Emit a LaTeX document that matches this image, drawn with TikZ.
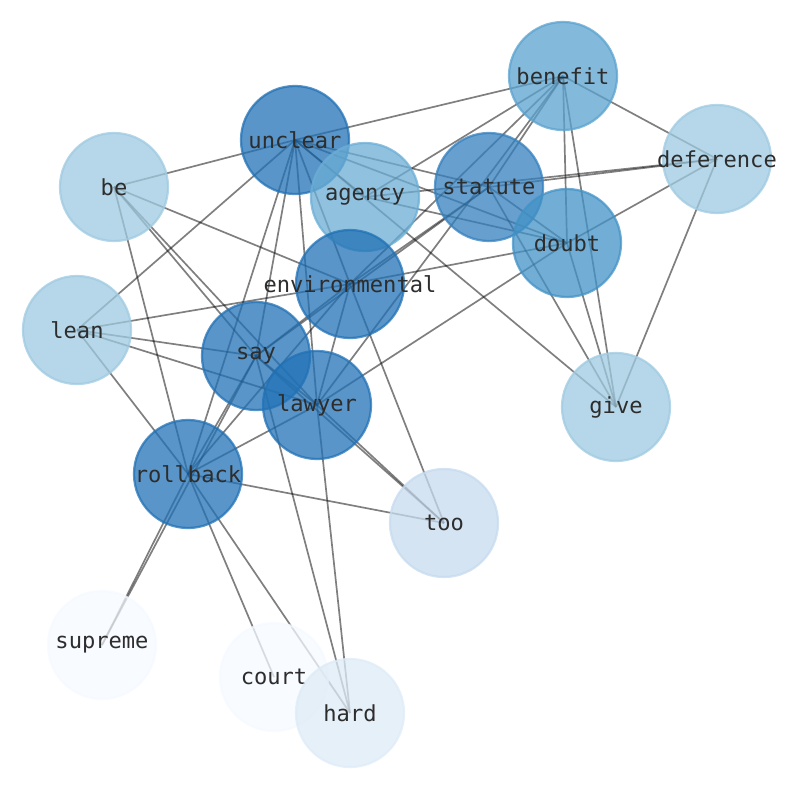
\documentclass[tikz,border=0pt]{standalone}
\usepackage{fontspec}
\setmonofont{DejaVu Sans Mono}
\usetikzlibrary{backgrounds}
\definecolor{blues9}{RGB}{33,113,181}
\definecolor{blues8}{RGB}{52,128,190}
\definecolor{blues7}{RGB}{66,146,198}
\definecolor{blues6}{RGB}{90,162,207}
\definecolor{blues5}{RGB}{107,174,214}
\definecolor{blues4}{RGB}{158,202,225}
\definecolor{blues3}{RGB}{198,219,239}
\definecolor{blues2}{RGB}{222,235,247}
\definecolor{blues1}{RGB}{245,250,255}
\definecolor{wordtext}{RGB}{45,45,45}
\newcommand{\wordtag}[1]{\makebox[0pt]{#1}}

\begin{document}
\begin{tikzpicture}[x=0.025cm,y=-0.025cm]
        \tikzset{word/.style={circle,minimum size=2.7cm,inner sep=0pt,
            line width=1.6pt,fill opacity=0.75,draw opacity=0.75,
            text opacity=1,text=wordtext,
            font=\ttfamily\fontsize{15.7}{16}\selectfont},
          tone/.style={word,fill=#1,draw=#1},
          link/.style={draw=black,draw opacity=0.5,line width=1.2pt}}
        \useasboundingbox (0,0) rectangle (794,790);
        % words
        \node[tone=blues6] (benefit) at (563,76) {\wordtag{benefit}};
        \node[tone=blues9] (unclear) at (295,140) {\wordtag{unclear}};
        \node[tone=blues4] (deference) at (717,159) {\wordtag{deference}};
        \node[tone=blues4] (be) at (114,187) {\wordtag{be}};
        \node[tone=blues5] (agency) at (365,197) {\wordtag{agency}};
        \node[tone=blues8] (statute) at (489,187) {\wordtag{statute}};
        \node[tone=blues7] (doubt) at (567,243) {\wordtag{doubt}};
        \node[tone=blues9] (environmental) at (350,284) {\wordtag{environmental}};
        \node[tone=blues4] (lean) at (77,330) {\wordtag{lean}};
        \node[tone=blues9] (say) at (256,356) {\wordtag{say}};
        \node[tone=blues9] (lawyer) at (317,405) {\wordtag{lawyer}};
        \node[tone=blues4] (give) at (616,407) {\wordtag{give}};
        \node[tone=blues9] (rollback) at (188,474) {\wordtag{rollback}};
        \node[tone=blues3] (too) at (444,523) {\wordtag{too}};
        \node[tone=blues1] (supreme) at (102,645) {\wordtag{supreme}};
        \node[tone=blues1] (court) at (274,677) {\wordtag{court}};
        \node[tone=blues2] (hard) at (350,713) {\wordtag{hard}};
        % co-occurrence links
        \begin{scope}[on background layer]
          \foreach \a/\b in {unclear/benefit,unclear/be,unclear/lean,
              unclear/rollback,unclear/say,unclear/lawyer,
              unclear/environmental,unclear/agency,unclear/statute,
              unclear/doubt,unclear/give,
              be/environmental,be/say,be/lawyer,be/rollback,
              lean/environmental,lean/say,lean/lawyer,lean/rollback,
              benefit/agency,benefit/environmental,benefit/statute,
              benefit/lawyer,benefit/doubt,benefit/give,benefit/deference,
              deference/statute,deference/agency,deference/doubt,
              deference/give,
              statute/doubt,statute/give,statute/environmental,statute/say,
              agency/doubt,doubt/environmental,doubt/lawyer,doubt/give,
              environmental/say,environmental/rollback,
              environmental/lawyer,environmental/too,
              say/lawyer,say/rollback,say/supreme,say/hard,say/too,
              lawyer/rollback,lawyer/too,lawyer/hard,
              rollback/supreme,rollback/court,rollback/hard,rollback/too}
            \draw[link] (\a.center) -- (\b.center);
        \end{scope}
\end{tikzpicture}
\end{document}
